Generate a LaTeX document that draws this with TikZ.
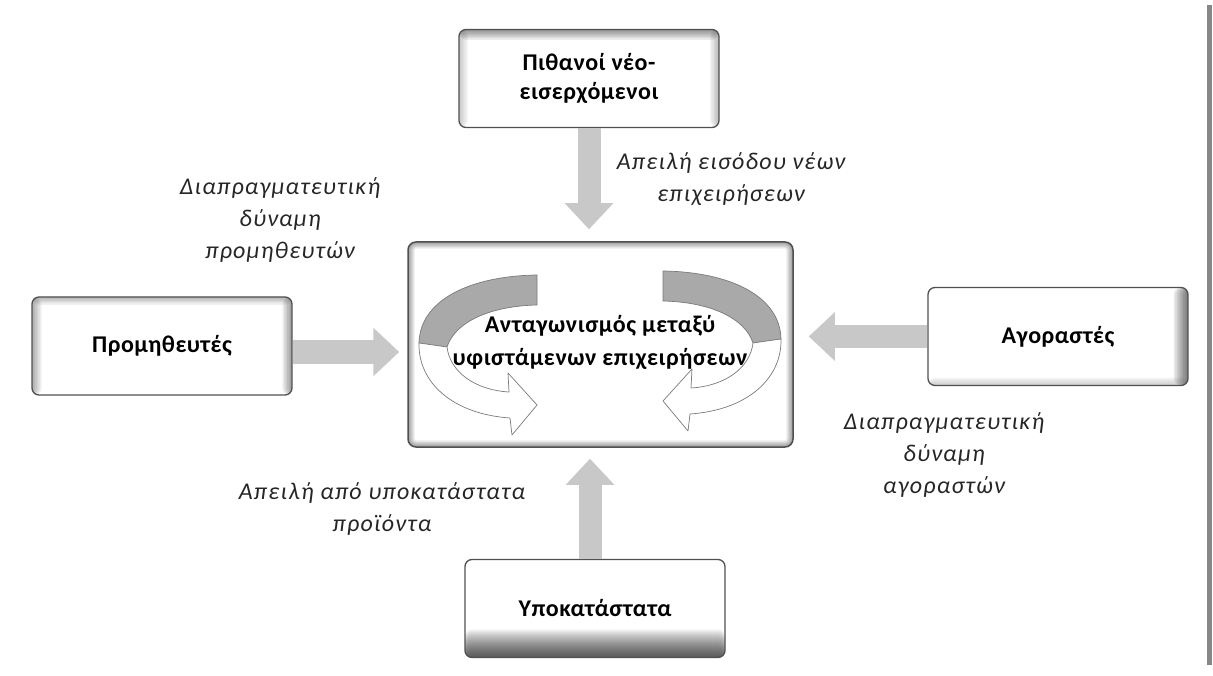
\documentclass[tikz,border=0pt]{standalone}
\usepackage{fontspec}
\setmainfont{Carlito}
\usetikzlibrary{arrows.meta}
\definecolor{arrowgray}{HTML}{C8C8C8}
\definecolor{ribbongray}{HTML}{A9A9A9}
\definecolor{ribbonline}{HTML}{7A7A7A}
\definecolor{boxline}{HTML}{505050}
\newfontfamily\boxfont[LetterSpace=2]{Carlito}
\newfontfamily\lblfont[LetterSpace=5]{Carlito}
\newfontfamily\ctrfont[LetterSpace=2.5]{Carlito}
\tikzset{
  box/.style={draw=boxline, line width=1.3pt, rounded corners=7pt, fill=white,
    minimum width=260pt, minimum height=98pt, align=center,
    font=\boxfont\bfseries\fontsize{24}{29}\selectfont},
  shadebottom/.style={path picture={\foreach \i in {1,...,14}{
      \fill[black, opacity=0.065] (path picture bounding box.south west) rectangle ([yshift=2*\i pt]path picture bounding box.south east);}}},
  shaderight/.style={path picture={\foreach \i in {1,...,9}{
      \fill[black, opacity=0.07] ([xshift=-1.6*\i pt]path picture bounding box.south east) rectangle (path picture bounding box.north east);}
      \foreach \i in {1,...,5}{
      \fill[black, opacity=0.04] (path picture bounding box.south west) rectangle ([yshift=1.6*\i pt]path picture bounding box.south east);}}},
  shadesides/.style={path picture={\foreach \i in {1,...,6}{
      \fill[black, opacity=0.06] (path picture bounding box.south west) rectangle ([xshift=1.6*\i pt]path picture bounding box.north west);
      \fill[black, opacity=0.07] ([xshift=-1.6*\i pt]path picture bounding box.south east) rectangle (path picture bounding box.north east);
      \fill[black, opacity=0.05] ([yshift=-1.3*\i pt]path picture bounding box.north west) rectangle (path picture bounding box.north east);}}},
  shadetop/.style={path picture={\foreach \i in {1,...,7}{
      \fill[black, opacity=0.07] ([yshift=-1.5*\i pt]path picture bounding box.north west) rectangle (path picture bounding box.north east);
      \fill[black, opacity=0.04] ([xshift=-1.3*\i pt]path picture bounding box.south east) rectangle (path picture bounding box.north east);
      \fill[black, opacity=0.03] (path picture bounding box.south west) rectangle ([xshift=1.3*\i pt]path picture bounding box.north west);}}},
  centerbox/.style={draw=boxline, line width=1.5pt, rounded corners=8pt, fill=white,
    minimum width=385pt, minimum height=205pt,
    path picture={\foreach \i in {1,...,6}{
      \draw[black, opacity=0.07, line width=2.2*\i pt, rounded corners=8pt]
      (path picture bounding box.south west) rectangle (path picture bounding box.north east);}}},
  force/.style={line width=23pt, draw=arrowgray,
    -{Triangle[width=47pt,length=26pt]}},
  lbl/.style={align=center, font=\lblfont\itshape\fontsize{24}{32}\selectfont, text=black!85},
  ribbontop/.style={fill=ribbongray, draw=ribbonline, line width=0.7pt, line join=round},
  ribbonbot/.style={fill=white, draw=ribbonline, line width=0.7pt, line join=round},
}
\begin{document}
\begin{tikzpicture}[x=1pt, y=-1pt]
\useasboundingbox (0,0) rectangle (1213,676);
\fill[white] (0,0) rectangle (1213,676);
\fill[black!47] (1207,5) rectangle (1212,665);

% boxes
\node[box, shadetop] (top) at (589,78.5) {Πιθανοί νέο-\\εισερχόμενοι};
\node[box, shadesides] (left) at (162,346) {Προμηθευτές};
\node[box, shaderight] (right) at (1058,336.5) {Αγοραστές};
\node[box, shadebottom] (bottom) at (595,608.5) {Υποκατάστατα};
\node[centerbox] (center) at (600.5,344.5) {};

% ribbons (left)
\draw[ribbontop] (537,275) .. controls (470,276) and (420,300) .. (419,343)
  -- (447,347) .. controls (455,322) and (490,306) .. (537,305) -- cycle;
\draw[ribbonbot] (419,343) .. controls (418,382) and (452,414) .. (510,418)
  -- (512,435) -- (537,405) -- (508,373) -- (509,392)
  .. controls (475,390) and (450,372) .. (447,347) -- cycle;
% ribbons (right, mirrored)
\begin{scope}[shift={(1200,-4)}, xscale=-1]
\draw[ribbontop] (537,275) .. controls (470,276) and (420,300) .. (419,343)
  -- (447,347) .. controls (455,322) and (490,306) .. (537,305) -- cycle;
\draw[ribbonbot] (419,343) .. controls (418,382) and (452,414) .. (510,418)
  -- (512,435) -- (537,405) -- (508,373) -- (509,392)
  .. controls (475,390) and (450,372) .. (447,347) -- cycle;
\end{scope}

\node[font=\ctrfont\bfseries\fontsize{24}{33}\selectfont, align=center] (ctext) at (600,342)
  {Ανταγωνισμός μεταξύ\\υφιστάμενων επιχειρήσεων};

% force arrows
\draw[force, shorten >=12pt] (top.south) -- (top.south |- center.north);
\draw[force, shorten >=11pt] ([xshift=-5pt]bottom.north) -- ([xshift=-5pt]bottom.north |- center.south);
\draw[force, shorten >=8pt] ([yshift=-6pt]left.east) -- ([yshift=-6pt]left.east -| center.west);
\draw[force, shorten >=15pt] (right.west) -- (right.west -| center.east);

% labels
\node[lbl] (l1) at (731,179) {Απειλή εισόδου νέων\\επιχειρήσεων};
\node[lbl] (l2) at (280,220) {Διαπραγματευτική\\δύναμη\\προμηθευτών};
\node[lbl] (l3) at (944,455) {Διαπραγματευτική\\δύναμη\\αγοραστών};
\node[lbl] (l4) at (382,509) {Απειλή από υποκατάστατα\\προϊόντα};
\end{tikzpicture}
\end{document}
